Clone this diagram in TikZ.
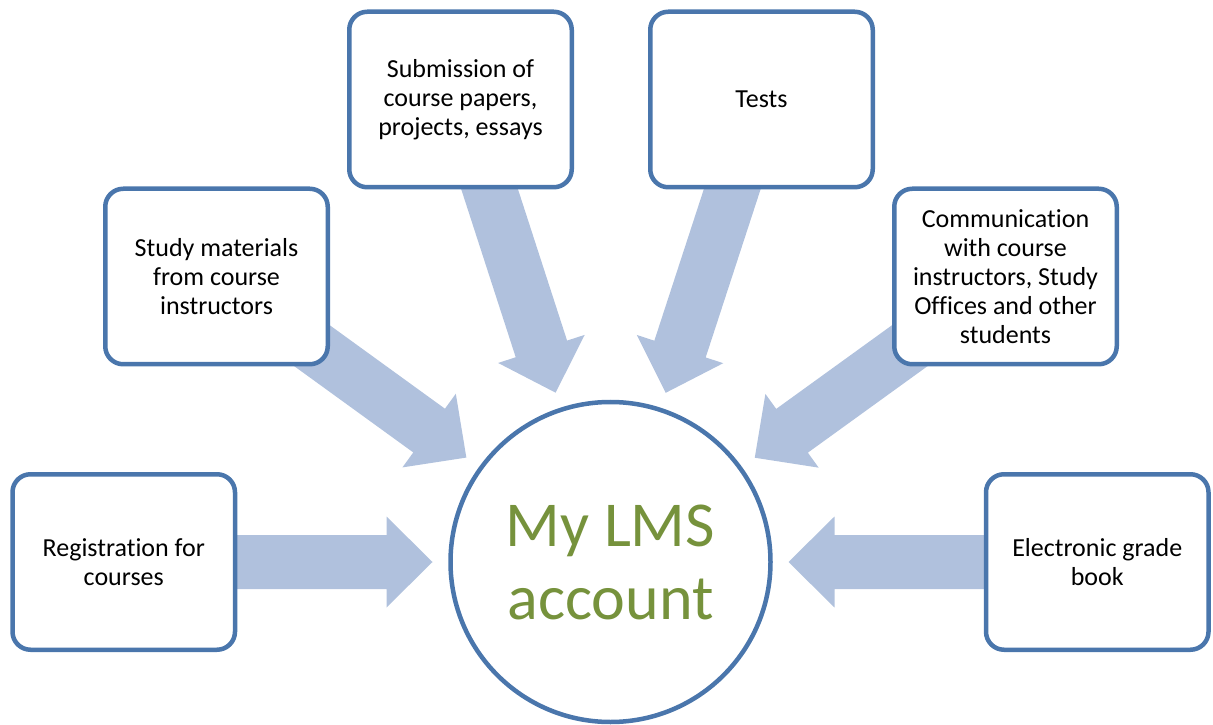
\documentclass[tikz,border=0pt]{standalone}
\usepackage{fontspec}
\setmainfont[Ligatures=NoCommon]{Carlito}
\usetikzlibrary{positioning,calc,backgrounds}
\definecolor{boxblue}{RGB}{74,118,172}
\definecolor{arrowblue}{RGB}{176,193,221}
\definecolor{lmsgreen}{RGB}{118,146,60}
% block arrow from a box towards the central circle
\newcommand{\feedarrow}[1]{%
    \coordinate (#1-tip) at ($(lms.center)!178pt!(#1.center)$);
    \coordinate (#1-base) at ($(#1-tip)!46pt!(#1.center)$);
    \fill[arrowfill] ($(#1.center)!27pt!90:(#1-tip)$) -- ($(#1-base)!27pt!90:(#1-tip)$)
        -- ($(#1-base)!45.5pt!90:(#1-tip)$) -- (#1-tip)
        -- ($(#1-base)!45.5pt!-90:(#1-tip)$) -- ($(#1-base)!27pt!-90:(#1-tip)$)
        -- ($(#1.center)!27pt!-90:(#1-tip)$) -- cycle;
}

\begin{document}
\begin{tikzpicture}[
    x=1pt, y=1pt,
    box/.style={rectangle, draw=boxblue, line width=4.5pt, fill=white, rounded corners=18pt, minimum width=222.5pt, minimum height=175.5pt, align=center, font=\fontsize{26}{29}\selectfont},
    hub/.style={circle, draw=boxblue, line width=4.5pt, fill=white, minimum size=320pt, align=center, text=lmsgreen, font=\fontsize{64}{73}\selectfont},
    arrowfill/.style={fill=arrowblue}
]
    \useasboundingbox (0,0) rectangle (1213,724);

    \node[hub] (lms) at (610.5,162) {My LMS\\account};

    \node[box] (sub) at (460.5,624.5) {Submission of\\course papers,\\projects, essays};
    \node[box, right=74pt of sub] (tests) {Tests};
    \node[box, below left=-3pt and 17pt of sub] (study) {Study materials\\from course\\instructors};
    \node[box, below right=-3pt and 17pt of tests] (comm) {Communication\\with course\\instructors, Study\\Offices and other\\students};
    \node[box, left=211pt of lms] (reg) {Registration for\\courses};
    \node[box, right=211pt of lms] (grade) {Electronic grade\\book};

    % arrows go behind the boxes
    \begin{scope}[on background layer]
        \feedarrow{reg}
        \feedarrow{study}
        \feedarrow{sub}
        \feedarrow{tests}
        \feedarrow{comm}
        \feedarrow{grade}
    \end{scope}
\end{tikzpicture}
\end{document}
